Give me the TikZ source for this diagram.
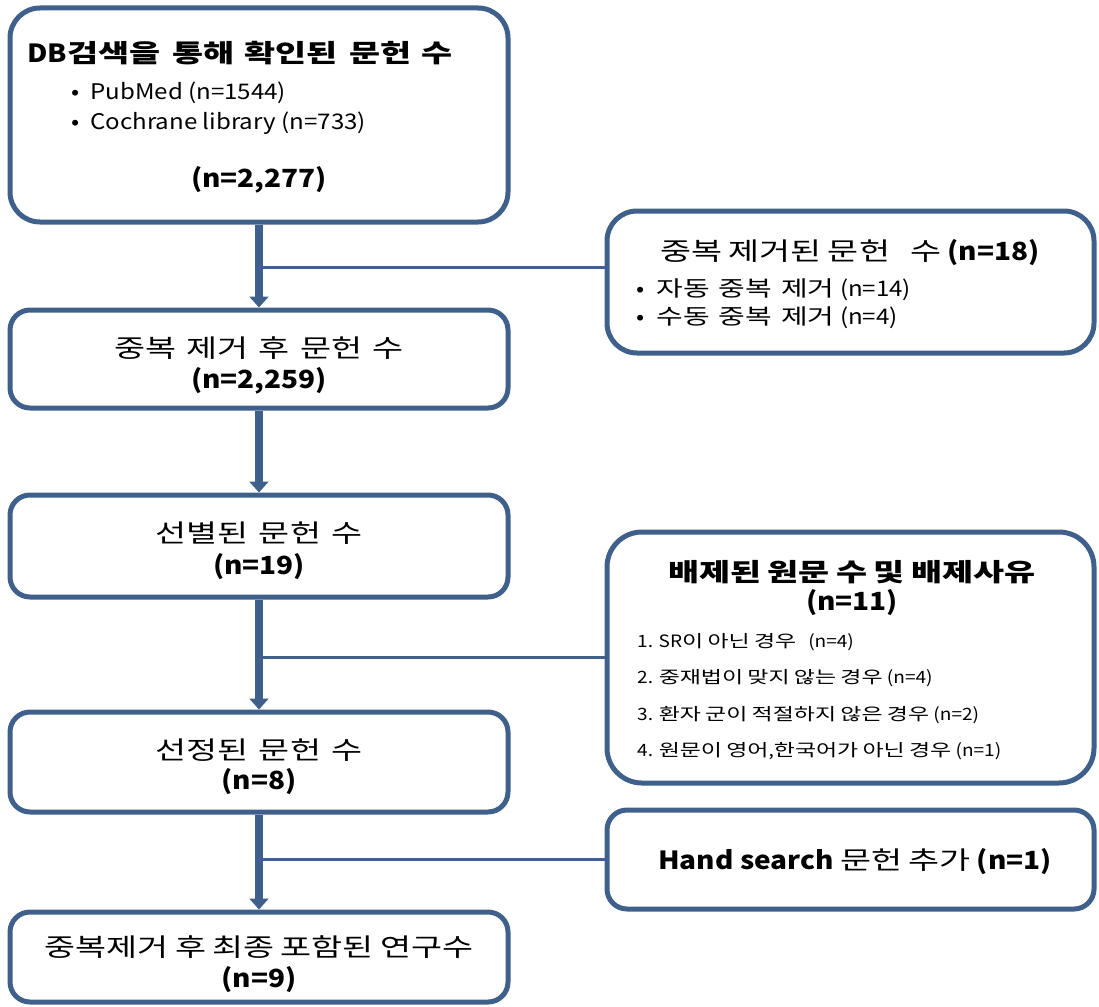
\documentclass[tikz,border=0pt]{standalone}
\usepackage{fontspec}
\setmainfont[FakeStretch=1.12]{Noto Sans CJK KR}
\newfontfamily\hf[FakeStretch=1.35]{Noto Sans CJK KR}
% switch Hangul syllables to the wider family automatically
\XeTeXinterchartokenstate=1
\chardef\hclass=10
\count255="AC00
\loop
  \XeTeXcharclass\count255=\hclass
  \ifnum\count255<"D7A3 \advance\count255 by 1 \repeat
\XeTeXinterchartoks 0 \hclass = {\hf}
\XeTeXinterchartoks 4095 \hclass = {\hf}
\XeTeXinterchartoks \hclass 0 = {\rmfamily}
\XeTeXinterchartoks \hclass 4095 = {\rmfamily}
\usetikzlibrary{arrows.meta}
\definecolor{edge}{RGB}{64,96,140}
\begin{document}
\begin{tikzpicture}[x=1pt,y=-1pt,
  box/.style={draw=edge, line width=5pt, rounded corners=#1, fill=white, inner sep=0pt},
  box/.default=20pt,
  txt/.style={inner sep=0pt, text=black},
  big/.style={txt, font=\fontsize{25}{30}\selectfont},
  bigb/.style={txt, font=\fontsize{25}{30}\selectfont\bfseries},
  mid/.style={txt, font=\fontsize{21.5}{25}\selectfont},
  small/.style={txt, font=\fontsize{17}{20}\selectfont},
  trunk/.style={draw=edge, line width=8pt, -{Triangle[width=19pt,length=11pt]}},
  branch/.style={draw=edge, line width=3pt}]
\useasboundingbox (0,0) rectangle (1099,1006);

% boxes
\node[box=30pt, minimum width=498pt, minimum height=214pt] (b1) at (259,115) {};
\node[box, minimum width=498pt, minimum height=98pt] (b2) at (259,359) {};
\node[box, minimum width=498pt, minimum height=102pt] (b3) at (259,546) {};
\node[box, minimum width=498pt, minimum height=100pt] (b4) at (259,762) {};
\node[box, minimum width=498pt, minimum height=90pt] (b5) at (259,957) {};
\node[box=30pt, minimum width=487pt, minimum height=142pt] (r1) at (850.5,282) {};
\node[box=35pt, minimum width=487pt, minimum height=251pt] (r2) at (850.5,657.5) {};
\node[box, minimum width=487pt, minimum height=99pt] (r3) at (850.5,859.5) {};

% branches
\coordinate (j1) at (259,267);
\draw[branch] (j1) -- (j1 -| r1.west);
\draw[branch] (r2.west -| b3.south) -- (r2.west);
\draw[branch] (r3.west -| b4.south) -- (r3.west);

% trunk
\draw[trunk] (b1) -- (b2);
\draw[trunk] (b2) -- (b3);
\draw[trunk] (b3) -- (b4);
\draw[trunk] (b4) -- (b5);

% box 1 text
\node[bigb, anchor=west] (b1t) at (27,53) {DB검색을\hspace{12pt}통해\hspace{10pt}확인된\hspace{12pt}문헌\hspace{10pt}수};
\node[mid, anchor=west] (b1a) at (71,93) {•\hspace{11pt}PubMed (n=1544)};
\node[mid, anchor=west] (b1b) at (71,123) {•\hspace{11pt}Cochrane library (n=733)};
\node[bigb] (b1n) at (259,180) {(n=2,277)};

% box 2
\node[big] (b2t) at (259,348) {중복\hspace{10pt}제거\hspace{10pt}후\hspace{10pt}문헌\hspace{10pt}수};
\node[bigb] (b2n) at (259,381) {(n=2,259)};

% box 3
\node[big] (b3t) at (259,533) {선별된\hspace{10pt}문헌\hspace{10pt}수};
\node[bigb] (b3n) at (259,567) {(n=19)};

% box 4
\node[big] (b4t) at (259,750) {선정된\hspace{10pt}문헌\hspace{10pt}수};
\node[bigb] (b4n) at (259,782) {(n=8)};

% box 5
\node[big] (b5t) at (259,947) {중복제거 후 최종 포함된 연구수};
\node[bigb] (b5n) at (259,980) {(n=9)};

% right box 1
\node[big, anchor=west] (r1t) at (660,253) {중복 제거된 문헌\hspace{20pt}수 \textbf{(n=18)}};
\node[mid, anchor=west] (r1a) at (636,290) {•\hspace{12pt}자동\hspace{9pt}중복\hspace{9pt}제거 (n=14)};
\node[mid, anchor=west] (r1b) at (636,318) {•\hspace{12pt}수동\hspace{9pt}중복\hspace{9pt}제거 (n=4)};

% right box 2
\node[bigb] (r2t) at (852,572) {배제된 원문 수 및 배제사유};
\node[bigb] (r2n) at (852,603) {(n=11)};
\node[small, anchor=west] (r2a) at (637,642) {1. SR이 아닌 경우\hspace{12pt}(n=4)};
\node[small, anchor=west] (r2b) at (637,678) {2. 중재법이 맞지 않는 경우 (n=4)};
\node[small, anchor=west] (r2c) at (637,715) {3. 환자 군이 적절하지 않은 경우 (n=2)};
\node[small, anchor=west] (r2d) at (637,751) {4. 원문이 영어,한국어가 아닌 경우 (n=1)};

% right box 3
\node[big] (r3t) at (855,862) {\textbf{Hand search} 문헌 추가 \textbf{(n=1)}};
\end{tikzpicture}
\end{document}
